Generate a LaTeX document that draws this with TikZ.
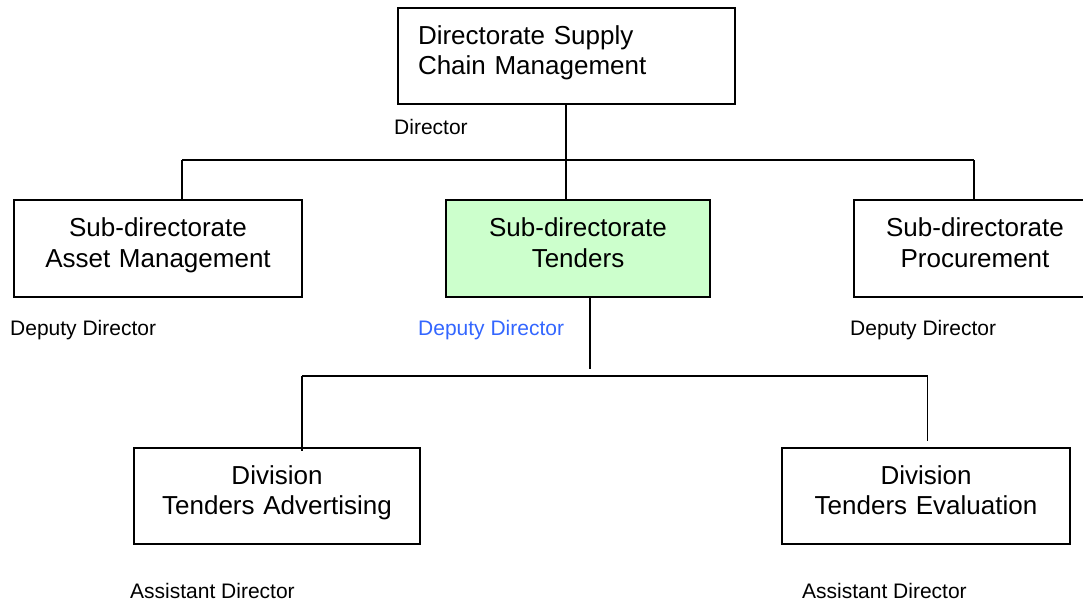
\documentclass[tikz,border=0pt]{standalone}
\usepackage{fontspec}
\setmainfont{Liberation Sans}
\begin{document}
\begin{tikzpicture}[x=1pt,y=-1pt,
  orgbox/.style={draw=black, line width=1.6pt, fill=white, rectangle,
    font=\fontsize{26}{30.5}\selectfont, align=center, text width=230pt,
    text height=20pt, text depth=44pt, inner xsep=0pt, inner ysep=0pt},
  tenders/.style={orgbox, fill=green!20!white},
  link/.style={draw=black, line width=1.3pt},
  rank/.style={font=\fontsize{21}{25}\selectfont, anchor=base west, inner sep=0pt},
  blue rank/.style={rank, text=rankblue}]
\definecolor{rankblue}{HTML}{3366FF}
\useasboundingbox (0,0) rectangle (1083,603);

% directorate
\node[orgbox, minimum width=337pt, minimum height=96pt, text width=297pt, align=left]
  (top) at (566.5,56) {Directorate Supply\\Chain Management};

% sub-directorates
\node[orgbox, minimum width=288pt, minimum height=97pt] (subL) at (158,248.5)
  {Sub-directorate\\Asset Management};
\node[tenders, minimum width=264pt, minimum height=97pt] (subM) at (578,248.5)
  {Sub-directorate\\Tenders};
\node[orgbox, minimum width=242pt, minimum height=97pt, text width=220pt] (subR) at (975,248.5)
  {Sub-directorate\\Procurement};

% divisions
\node[orgbox, minimum width=286pt, minimum height=96pt, text width=260pt] (divL) at (277,496)
  {Division\\Tenders Advertising};
\node[orgbox, minimum width=288pt, minimum height=96pt, text width=260pt] (divR) at (926,496)
  {Division\\Tenders Evaluation};

% rank labels
\node[rank] (rTop) at (394,134) {Director};
\node[rank] (rL) at (10,335) {Deputy Director};
\node[blue rank] (rM) at (418,335) {Deputy Director};
\node[rank] (rR) at (850,335) {Deputy Director};
\node[rank] (rDL) at (130,598) {Assistant Director};
\node[rank] (rDR) at (802,598) {Assistant Director};

% junction points
\coordinate (jTop) at (566,160);
\coordinate (jL) at (182,160);
\coordinate (jR) at (974,160);
\coordinate (mDrop) at (590,297);
\coordinate (mEnd) at (590,369);
\coordinate (kL) at (302,376);
\coordinate (kR) at (927.5,376);
\coordinate (kLend) at (302,451);
\coordinate (kRend) at (927.5,441);

% connectors, upper level
\draw[link] (top.south -| jTop) -- (jTop);
\draw[link] (jL) -- (jR);
\draw[link] (jL) -- (jL |- subL.north);
\draw[link] (jTop) -- (jTop |- subM.north);
\draw[link] (jR) -- (jR |- subR.north);

% connectors, lower level
\draw[link] (mDrop) -- (mEnd);
\draw[link] (kL) -- (kR);
\draw[link] (kL) -- (kLend);
\draw[link] (kR) -- (kRend);
\end{tikzpicture}
\end{document}
